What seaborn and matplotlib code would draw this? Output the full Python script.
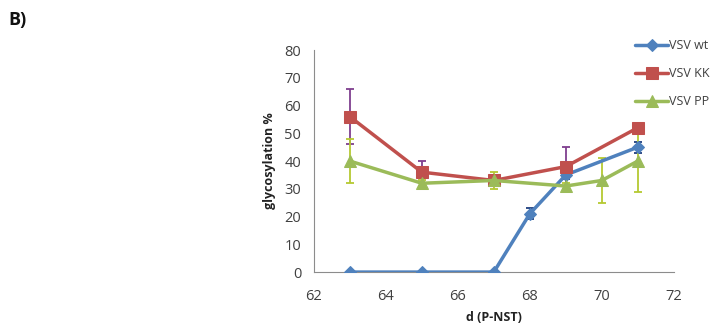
import matplotlib
matplotlib.use("Agg")
import matplotlib.pyplot as plt
import numpy as np
import pandas as pd
import seaborn as sns

# --- Data ---
wt_x = [63, 65, 67, 68, 69, 71]
wt_y = [0, 0, 0, 21, 35, 45]
wt_err = [0, 0, 0, 2, 1.5, 2]

kk_x = [63, 65, 67, 69, 71]
kk_y = [56, 36, 33, 38, 52]
kk_err = [10, 4, 1.5, 7, 1.5]

pp_x = [63, 65, 67, 69, 70, 71]
pp_y = [40, 32, 33, 31, 33, 40]
pp_err = [8, 1, 3, 1, 8, 11]

series_names = ["VSV wt", "VSV KK", "VSV PP"]
line_colors = ["#4F81BD", "#C0504D", "#9BBB59"]
err_colors = ["#1F3F7F", "#7F3F8F", "#B5C932"]
markers = ["D", "s", "^"]
marker_sizes = [6, 8, 8]

sns.set_style("white")
plt.rcParams["font.family"] = ["Open Sans", "DejaVu Sans"]

df = pd.concat([
    pd.DataFrame({"d": wt_x, "glyc": wt_y, "err": wt_err, "series": "VSV wt"}),
    pd.DataFrame({"d": kk_x, "glyc": kk_y, "err": kk_err, "series": "VSV KK"}),
    pd.DataFrame({"d": pp_x, "glyc": pp_y, "err": pp_err, "series": "VSV PP"}),
], ignore_index=True)

fig = plt.figure(figsize=(7.1, 3.29), dpi=100)
ax = fig.add_axes([0.442, 0.173, 0.507, 0.675])

# error bars first, then the lines on top
for name, ecol in zip(series_names, err_colors):
    sub = df[df["series"] == name]
    ax.errorbar(sub["d"], sub["glyc"], yerr=sub["err"], fmt="none",
                ecolor=ecol, elinewidth=1.3, capsize=3, capthick=1.3, zorder=2)

for name, col, mk, ms in zip(series_names, line_colors, markers, marker_sizes):
    sub = df[df["series"] == name]
    sns.lineplot(data=sub, x="d", y="glyc", ax=ax, color=col, linewidth=2.5,
                 marker=mk, markersize=ms, markeredgecolor=col, label=name,
                 zorder=3)

ax.set_xlim(62, 72)
ax.set_ylim(0, 80)
ax.set_xticks(np.arange(62, 73, 2))
ax.set_yticks(np.arange(0, 81, 10))

for side in ["top", "right"]:
    ax.spines[side].set_visible(False)
for side in ["left", "bottom"]:
    ax.spines[side].set_color("#8C8C8C")
    ax.spines[side].set_linewidth(0.8)
ax.tick_params(axis="both", direction="out", length=4, width=0.8,
               color="#8C8C8C", labelsize=10.5, labelcolor="#404040")
ax.tick_params(axis="x", pad=8)
ax.tick_params(axis="y", pad=5)

ax.set_xlabel("d (P-NST)", fontsize=9, fontweight="bold", color="#222222", labelpad=5)
ax.set_ylabel("glycosylation %", fontsize=9, fontweight="bold", color="#222222", labelpad=6)

handles, labels = ax.get_legend_handles_labels()
ax.legend_.remove()
fig.legend(handles, labels, loc="upper left", bbox_to_anchor=(0.888, 0.897),
           frameon=False, fontsize=9, handlelength=2.6, labelspacing=1.2,
           handletextpad=0.1, borderaxespad=0, labelcolor="#404040")

fig.text(0.012, 0.925, "B)", fontsize=13, fontweight="bold", color="#111111")

fig.savefig("out.png", dpi=100)
